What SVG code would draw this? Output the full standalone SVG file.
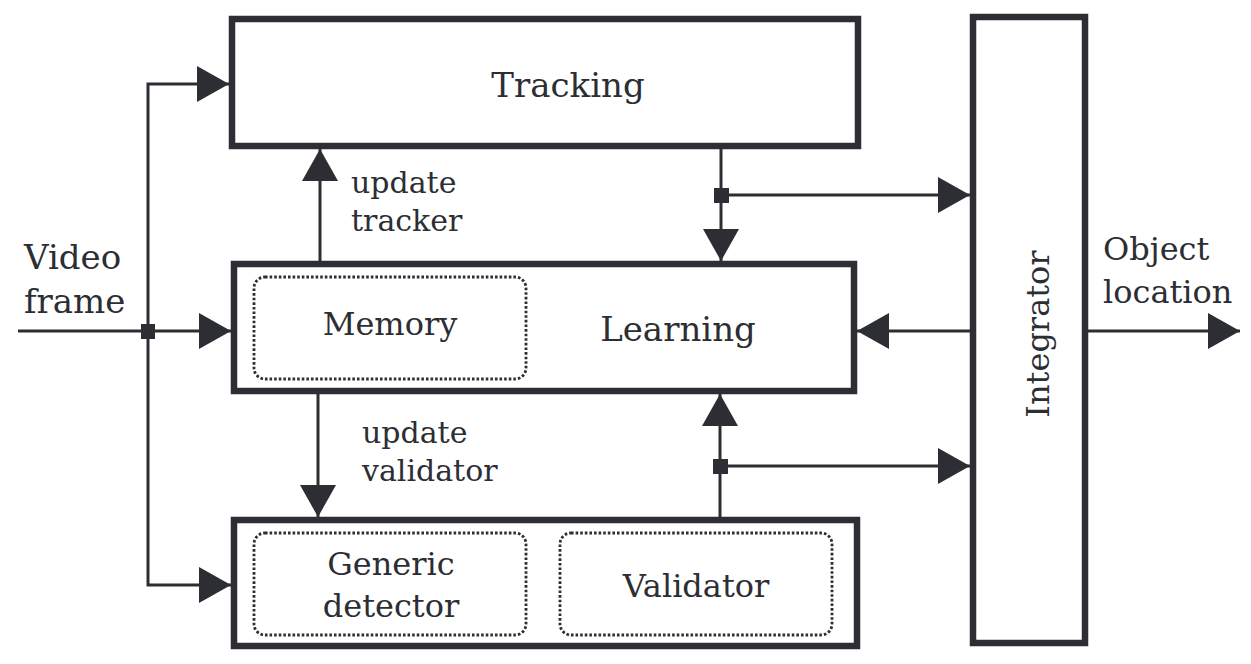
<svg xmlns="http://www.w3.org/2000/svg" width="1251" height="664" viewBox="0 0 1251 664">
<defs>
<style>
.box{fill:#fff;stroke:#2c2e33;stroke-width:6.5}
.dot{fill:none;stroke:#2c2e33;stroke-width:2.8;stroke-dasharray:2.6 2}
.con{fill:none;stroke:#2c2e33;stroke-width:3;marker-end:url(#ah)}
.jn{fill:#2c2e33}
text{font-family:"DejaVu Serif","Liberation Serif",serif;fill:#2c2e33}
.big{font-size:34px}
.mid{font-size:32px}
.lbl{font-size:30px}
</style>
<marker id="ah" markerUnits="userSpaceOnUse" markerWidth="32" markerHeight="36" refX="32" refY="18" orient="auto" viewBox="0 0 32 36">
<path d="M0,0 L32,18 L0,36 Z" fill="#2c2e33"/>
</marker>
</defs>
<rect width="1251" height="664" fill="#fff"/>
<g id="connectors">
<path class="con" d="M18,331 H231"/>
<path class="con" d="M148,331 V84 H229"/>
<path class="con" d="M148,331 V585 H231"/>
<path class="con" d="M320,261 V149"/>
<path class="con" d="M721,149 V261"/>
<path class="con" d="M721,195 H970"/>
<path class="con" d="M970,331 H857"/>
<path class="con" d="M720,517 V394"/>
<path class="con" d="M720,466 H970"/>
<path class="con" d="M318,394 V517"/>
<path class="con" d="M1088,331 H1240"/>
<rect class="jn" x="141" y="324" width="14" height="15"/>
<rect class="jn" x="714" y="188" width="15" height="15"/>
<rect class="jn" x="713" y="459" width="15" height="15"/>
</g>
<g id="tracking">
<rect class="box" x="232" y="19" width="626" height="127"/>
<text class="big" x="568" y="97" text-anchor="middle">Tracking</text>
</g>
<g id="learning">
<rect class="box" x="234" y="264" width="620" height="127"/>
<text class="big" x="678" y="341" text-anchor="middle">Learning</text>
</g>
<g id="memory">
<rect class="dot" x="254" y="277" width="272" height="102" rx="11"/>
<text class="mid" x="390" y="335" text-anchor="middle">Memory</text>
</g>
<g id="detection">
<rect class="box" x="234" y="520" width="623" height="126"/>
</g>
<g id="generic-detector">
<rect class="dot" x="254" y="533" width="272" height="102" rx="11"/>
<text class="mid" x="391" y="575" text-anchor="middle">Generic</text>
<text class="mid" x="391" y="617" text-anchor="middle">detector</text>
</g>
<g id="validator">
<rect class="dot" x="560" y="533" width="272" height="102" rx="11"/>
<text class="mid" x="696" y="597" text-anchor="middle">Validator</text>
</g>
<g id="integrator">
<rect class="box" x="973" y="17" width="112" height="626"/>
<text class="mid" transform="translate(1049,334) rotate(-90)" text-anchor="middle">Integrator</text>
</g>
<g id="labels">
<text class="lbl" x="351" y="193">update</text>
<text class="lbl" x="351" y="231">tracker</text>
<text class="lbl" x="362" y="443">update</text>
<text class="lbl" x="362" y="481">validator</text>
<text class="big" x="24" y="269">Video</text>
<text class="big" x="24" y="313">frame</text>
<text class="mid" x="1103" y="260">Object</text>
<text class="mid" x="1103" y="303">location</text>
</g>
</svg>
